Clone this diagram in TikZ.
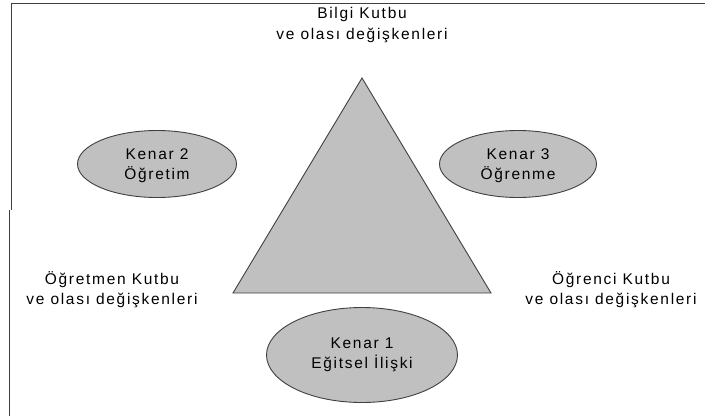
\documentclass[tikz,border=0pt]{standalone}
\usepackage{fontspec}
\setmainfont{Liberation Sans}[LetterSpace=11]
\usetikzlibrary{shapes.geometric}
\definecolor{fillgray}{HTML}{C0C0C0}
\definecolor{edgegray}{HTML}{404040}
\begin{document}
\begin{tikzpicture}[x=1pt,y=-1pt,
  txt/.style={align=center,inner sep=0pt,font=\fontsize{15.5}{20}\selectfont},
  oval/.style={ellipse,draw=edgegray,fill=fillgray,line width=0.9pt,inner sep=0pt,txt},
  pole/.style={txt}]
\useasboundingbox[fill=white] (0,0) rectangle (705,416);
% frame
\draw[edgegray,line width=1pt] (11,210) -- (11,3) -- (705,3);
\draw[edgegray,line width=1pt] (9,210) -- (9,416);
% triangle
\coordinate (apex) at (362,78);
\coordinate (bl) at (233,293);
\coordinate (br) at (491,293);
\draw[edgegray,fill=fillgray,line width=0.9pt,line join=miter] (apex) -- (br) -- (bl) -- cycle;
% ellipses
\node[oval,minimum width=159,minimum height=67] (k2) at (157,164) {};
\node[txt] (k2t) at (157,166) {Kenar 2\\Öğretim};
\node[oval,minimum width=157,minimum height=67] (k3) at (518,164) {};
\node[txt] (k3t) at (518,166) {Kenar 3\\Öğrenme};
\node[oval,minimum width=191,minimum height=95] (k1) at (362,355) {};
\node[txt] (k1t) at (362,355) {Kenar 1\\Eğitsel İlişki};
% poles
\node[pole,font=\fontsize{15.5}{21}\selectfont] (bilgi) at (362,25) {Bilgi Kutbu\\ve olası değişkenleri};
\node[pole] (ogretmen) at (112,290) {Öğretmen Kutbu\\ve olası değişkenleri};
\node[pole] (ogrenci) at (611,290) {Öğrenci Kutbu\\ve olası değişkenleri};
\end{tikzpicture}
\end{document}
